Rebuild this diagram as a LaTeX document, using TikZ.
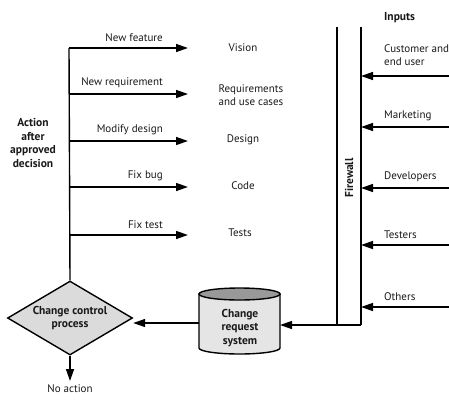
\documentclass[tikz,border=0pt]{standalone}
\usepackage{fontspec}
\setmainfont{PT Sans}
\usetikzlibrary{arrows.meta,shapes.geometric}
\begin{document}
\begin{tikzpicture}[x=1pt,y=-1pt,
  ln/.style={line width=1.4pt},
  arr/.style={ln,-{Triangle[length=12pt,width=8pt]}},
  lbl/.style={font=\fontsize{11}{13}\selectfont,inner sep=0pt,text=black!90},
  blbl/.style={font=\fontsize{11.5}{13.5}\selectfont\bfseries,inner sep=0pt,align=center,text=black!90}]
\useasboundingbox (0,0) rectangle (449,400);
% trunk
\coordinate (t1) at (69,48);
\coordinate (t2) at (69,94);
\coordinate (t3) at (69,141);
\coordinate (t4) at (69,187);
\coordinate (t5) at (69,235);
\coordinate (e1) at (188,48);
\coordinate (e2) at (188,94);
\coordinate (e3) at (188,141);
\coordinate (e4) at (188,187);
\coordinate (e5) at (188,235);
\node[diamond,draw,ln,fill=black!14,minimum width=125pt,minimum height=74pt,inner sep=0pt,aspect=1.7] (dia) at (70,318) {};
\node[blbl] (diat) at (70,318) {Change control\\process};
\draw[ln] (t1) -- (dia.north);
\draw[arr] (t1) -- (e1);
\draw[arr] (t2) -- (e2);
\draw[arr] (t3) -- (e3);
\draw[arr] (t4) -- (e4);
\draw[arr] (t5) -- (e5);
\node[lbl,anchor=south east] (l1) at (163,42) {New feature};
\node[lbl,anchor=south east] (l2) at (163,88) {New requirement};
\node[lbl,anchor=south east] (l3) at (163,135) {Modify design};
\node[lbl,anchor=south east] (l4) at (163,181) {Fix bug};
\node[lbl,anchor=south east] (l5) at (163,229) {Fix test};
\node[lbl] (v1) at (243,48) {Vision};
\node[lbl,align=left] (v2) at (251,95) {Requirements\\and use cases};
\node[lbl] (v3) at (243,140) {Design};
\node[lbl] (v4) at (243,186) {Code};
\node[lbl] (v5) at (240,233) {Tests};
\node[blbl] (act) at (33,143) {Action\\after\\approved\\decision};
% firewall
\coordinate (fl1) at (337,27);
\coordinate (fl2) at (337,325);
\coordinate (fr1) at (361,27);
\coordinate (fr2) at (361,325);
\draw[ln] (fl1) -- (fl2);
\draw[ln] (fr1) -- (fr2);
\node[blbl,rotate=90] (fw) at (349,178) {Firewall};
% cylinder
\filldraw[ln,fill=black!10] (199,294) -- (199,348)
  arc[start angle=180,end angle=0,x radius=40.5,y radius=6] -- (280,294) -- cycle;
\filldraw[ln,fill=black!40] (239.5,294) ellipse [x radius=40.5,y radius=6];
\coordinate (cyle) at (280,325);
\coordinate (cylw) at (199,323);
\node[blbl] (cyl) at (240,328) {Change\\request\\system};
\draw[arr] (fr2) -- (fl2) -- (cyle);
\draw[arr] (cylw) -- (cylw -| dia.east);
\coordinate (na) at (70,381);
\draw[arr] (dia.south) -- (na);
\node[lbl,anchor=north] (noa) at (70,384) {No action};
% inputs
\node[blbl,anchor=west] (inp) at (384,18) {Inputs};
\coordinate (i1) at (449,76);
\coordinate (i2) at (449,127);
\coordinate (i3) at (449,188);
\coordinate (i4) at (449,245);
\coordinate (i5) at (449,307);
\draw[arr] (i1) -- (i1 -| fr1);
\draw[arr] (i2) -- (i2 -| fr1);
\draw[arr] (i3) -- (i3 -| fr1);
\draw[arr] (i4) -- (i4 -| fr1);
\draw[arr] (i5) -- (i5 -| fr1);
\node[lbl,anchor=west,align=left] (s1) at (384,55) {Customer and\\end user};
\node[lbl,anchor=south west] (s2) at (384,121) {Marketing};
\node[lbl,anchor=south west] (s3) at (384,182) {Developers};
\node[lbl,anchor=south west] (s4) at (384,239) {Testers};
\node[lbl,anchor=south west] (s5) at (384,301) {Others};
\end{tikzpicture}
\end{document}
